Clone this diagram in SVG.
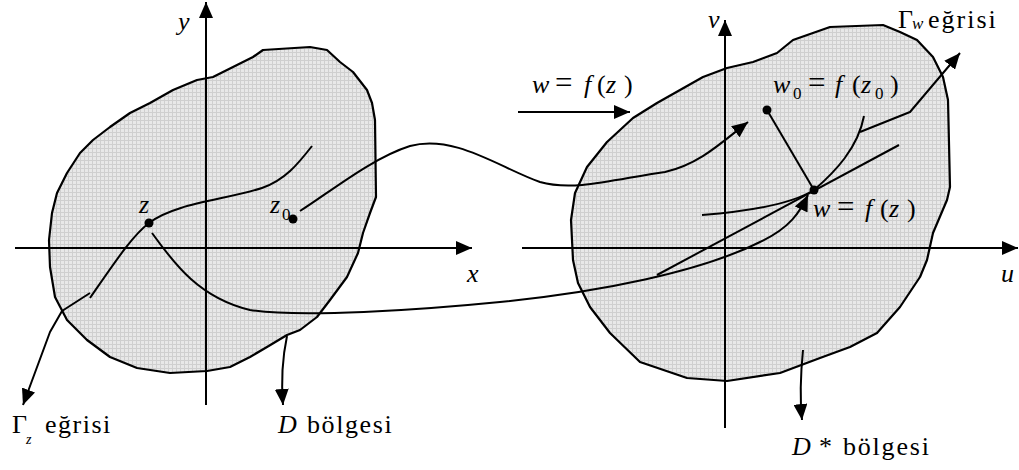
<svg xmlns="http://www.w3.org/2000/svg" width="1019" height="470" viewBox="0 0 1019 470">
<style>
.ln{fill:none;stroke:#000;stroke-width:2;stroke-linejoin:round;stroke-linecap:butt}
.blob{fill:url(#grid);stroke:#000;stroke-width:2.2;stroke-linejoin:round}
.dot{fill:#000}
</style>
<defs>
<pattern id="grid" width="4" height="4" patternUnits="userSpaceOnUse">
<rect width="4" height="4" fill="#e8e8e8"/>
<path d="M0,0.5 H4 M0.5,0 V4" stroke="#cfcfcf" stroke-width="1"/>
</pattern>
<marker id="ah" markerWidth="16" markerHeight="14" refX="16" refY="7" orient="auto" markerUnits="userSpaceOnUse">
<path d="M0,0 L16,7 L0,14 z" fill="#000"/>
</marker>
</defs>
<g id="region-D">
<path class="blob" d="M263,50 L310,47 L327,50 L340,62 L353,72 L367,90 L372,103 L375,120 L376,197 L370,213 L363,233 L358,253 L347,277 L330,300 L317,317 L300,330 L287,335 L267,347 L250,357 L230,367 L207,371 L170,373 L137,368 L110,357 L87,340 L67,320 L55,297 L50,267 L49,240 L52,213 L57,193 L67,173 L80,153 L93,140 L110,127 L130,113 L150,103 L173,90 L197,80 L213,77 L233,67 L253,57 Z"/>
</g>
<g id="region-Dstar">
<path class="blob" d="M793,40 L830,27 L883,25 L900,32 L917,40 L933,57 L943,77 L948,100 L950,187 L947,200 L933,233 L927,260 L920,277 L900,307 L877,333 L850,347 L820,358 L780,373 L727,381 L687,378 L640,362 L610,333 L590,307 L578,283 L573,260 L571,220 L575,193 L587,167 L607,142 L633,118 L657,103 L680,90 L703,77 L727,68 L753,62 L777,53 Z"/>
</g>
<g id="axes">
<line class="ln" x1="206" y1="405" x2="206" y2="2" marker-end="url(#ah)"/>
<line class="ln" x1="15" y1="248" x2="472" y2="248" marker-end="url(#ah)"/>
<line class="ln" x1="725" y1="428" x2="725" y2="20" marker-end="url(#ah)"/>
<line class="ln" x1="522" y1="248" x2="1018" y2="248" marker-end="url(#ah)"/>
</g>
<g id="connectors">
<path id="gamma-z" class="ln" d="M90,298 C115,262 132,236 149,223 C175,203 225,200 262,188 C285,180 298,164 312,146"/>
<path id="map-z0" class="ln" d="M300,211 C330,192 372,158 410,146 C455,134 500,168 540,182 C575,192 620,178 665,172 C700,164 722,142 748,122" marker-end="url(#ah)"/>
<path id="map-z" class="ln" d="M152,233 C175,265 200,298 250,310 C300,318 420,310 500,302 C600,292 700,272 760,242 C790,228 800,212 808,195" marker-end="url(#ah)"/>
<path id="gamma-w" class="ln" d="M702,215 C740,212 790,205 814,190 C835,172 858,148 864,116"/>
<line id="tangent" class="ln" x1="657" y1="275" x2="899" y2="145"/>
<line id="w0-line" class="ln" x1="767" y1="110" x2="814" y2="190"/>
<path id="ptr-gw" class="ln" d="M860,132 L910,112 L960,53" marker-end="url(#ah)"/>
<path id="ptr-gz" class="ln" d="M90,293 L62,311 L50,332 L23,405" marker-end="url(#ah)"/>
<path id="ptr-d" class="ln" d="M287,336 C283,355 281,380 283,405" marker-end="url(#ah)"/>
<path id="ptr-ds" class="ln" d="M803,350 C800,380 800,400 802,420" marker-end="url(#ah)"/>
<line id="map-arrow" class="ln" x1="518" y1="112" x2="630" y2="112" marker-end="url(#ah)"/>
</g>
<g id="points">
<circle class="dot" cx="149" cy="223" r="4.5"/>
<circle class="dot" cx="293" cy="219" r="4.5"/>
<circle class="dot" cx="767" cy="110" r="4.5"/>
<circle class="dot" cx="814" cy="190" r="4.5"/>
</g>
<g id="labels" font-family="Liberation Serif, Times New Roman, serif" font-size="26" fill="#000">
<text font-style="italic" x="178" y="30">y</text>
<text font-style="italic" x="467" y="282">x</text>
<text font-style="italic" x="708" y="28">v</text>
<text font-style="italic" x="1001" y="282">u</text>
<text font-style="italic" x="139" y="213">z</text>
<text><tspan font-style="italic" x="270" y="213">z</tspan><tspan font-size="17" x="282" y="220">0</tspan></text>
<text><tspan font-style="italic" x="532" y="93">w</tspan><tspan font-size="31" x="555">=</tspan><tspan font-style="italic" x="584">f</tspan><tspan x="597">(</tspan><tspan font-style="italic" x="606">z</tspan><tspan x="624">)</tspan></text>
<text><tspan font-style="italic" x="773" y="93">w</tspan><tspan font-size="17" x="793" y="99">0</tspan><tspan font-size="31" x="808" y="93">=</tspan><tspan font-style="italic" x="835">f</tspan><tspan x="852">(</tspan><tspan font-style="italic" x="861">z</tspan><tspan font-size="17" x="875" y="99">0</tspan><tspan x="890" y="93">)</tspan></text>
<text><tspan font-style="italic" x="813" y="217">w</tspan><tspan font-size="31" x="837">=</tspan><tspan font-style="italic" x="865">f</tspan><tspan x="880">(</tspan><tspan font-style="italic" x="889">z</tspan><tspan x="907">)</tspan></text>
<text><tspan x="898" y="28">Γ</tspan><tspan font-style="italic" font-size="17" x="912" y="29">w</tspan><tspan x="928" y="28" letter-spacing="2">eğrisi</tspan></text>
<text><tspan x="12" y="433">Γ</tspan><tspan font-style="italic" font-size="14" x="26" y="444">z</tspan><tspan x="45" y="433" letter-spacing="1.5">eğrisi</tspan></text>
<text><tspan font-style="italic" x="278" y="433">D</tspan><tspan x="307" letter-spacing="1.6">bölgesi</tspan></text>
<text><tspan font-style="italic" x="792" y="455">D</tspan><tspan x="819">*</tspan><tspan x="843" letter-spacing="1.8">bölgesi</tspan></text>
</g>
</svg>
